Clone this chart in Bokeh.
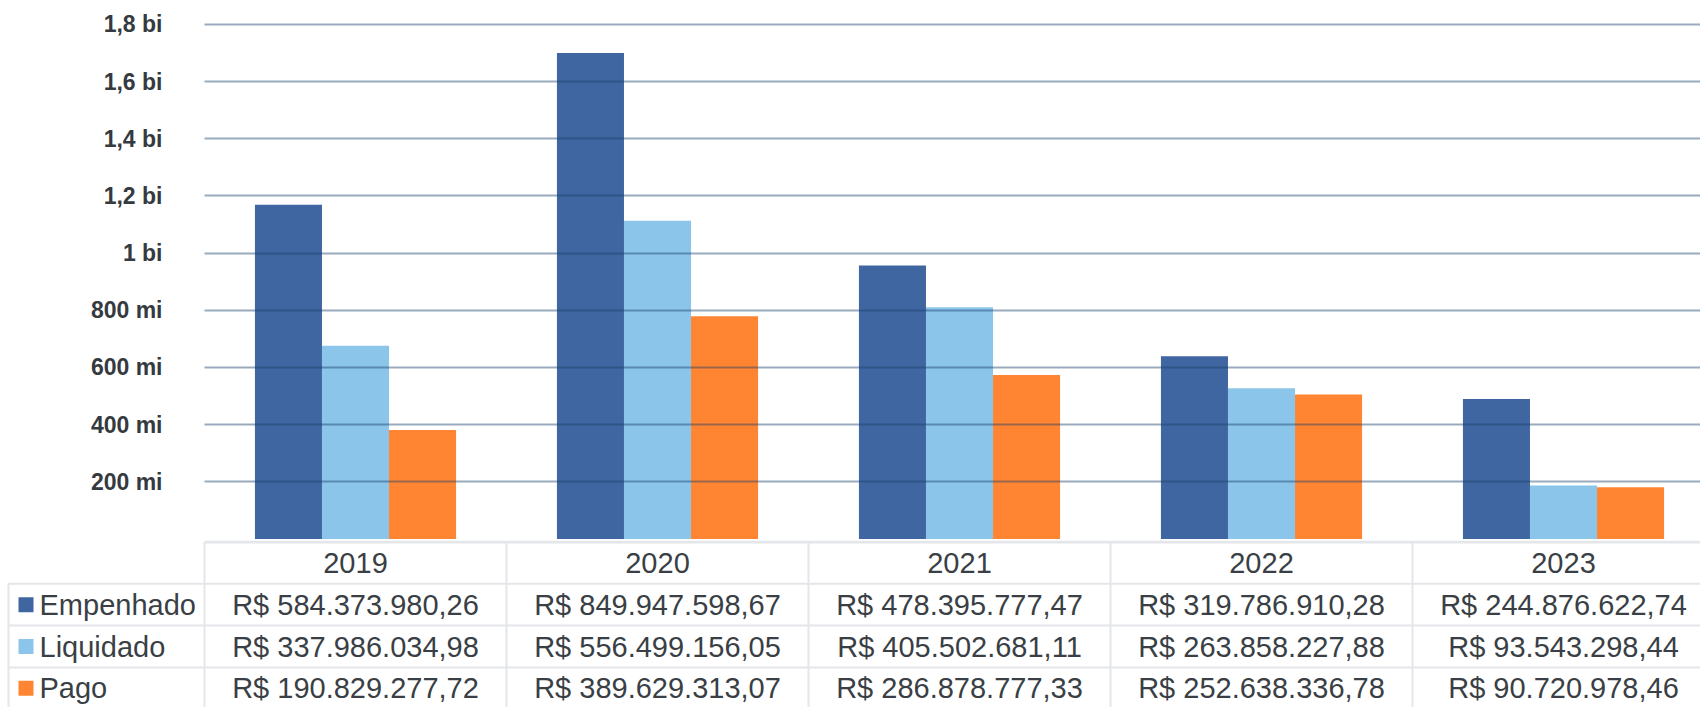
from bokeh.plotting import figure
from bokeh.models import Range1d, FixedTicker, ColumnDataSource
from bokeh.core.properties import value
from bokeh.embed import file_html
from bokeh.resources import INLINE

# ---------------- data ----------------
years = ["2019", "2020", "2021", "2022", "2023"]
series = ["Empenhado", "Liquidado", "Pago"]
colors = ["#3F66A0", "#8CC5EA", "#FF8533"]

# bar heights as drawn in the picture (R$)
bar_empenhado = [1168.7e6, 1699.9e6, 956.8e6, 639.6e6, 489.8e6]
bar_liquidado = [676.0e6, 1113.0e6, 811.0e6, 527.7e6, 187.1e6]
bar_pago = [381.7e6, 779.3e6, 573.8e6, 505.3e6, 181.4e6]

# values in the data table (R$)
tab_empenhado = [584373980.26, 849947598.67, 478395777.47, 319786910.28, 244876622.74]
tab_liquidado = [337986034.98, 556499156.05, 405502681.11, 263858227.88, 93543298.44]
tab_pago = [190829277.72, 389629313.07, 286878777.33, 252638336.78, 90720978.46]

tick_values = [200e6, 400e6, 600e6, 800e6, 1000e6, 1200e6, 1400e6, 1600e6, 1800e6]
tick_labels = ["200 mi", "400 mi", "600 mi", "800 mi", "1 bi", "1,2 bi", "1,4 bi", "1,6 bi", "1,8 bi"]


def brl(v):
    s = f"{v:,.2f}".replace(",", "X").replace(".", ",").replace("X", ".")
    return "R$ " + s


FONT = "Liberation Sans"
TXT = "#3a3f45"
LINE = "#e4e6e9"
TFS = "29px"

W = 1700
CAT = 302.0          # px per category
LEFT = 204           # px left of plot area
n = len(years)
x_end = (W - LEFT) / CAT

# ---------------- chart ----------------
top_h = 540
px_per = 287.5e-9    # px per R$
zero_px = 541.5
p = figure(width=W, height=top_h, output_backend="svg", toolbar_location=None,
           x_range=Range1d(0, x_end),
           y_range=Range1d(-(zero_px - top_h) / px_per, zero_px / px_per),
           x_axis_location=None, min_border_left=LEFT, min_border_right=0,
           min_border_top=0, min_border_bottom=0)
p.outline_line_color = None
p.xgrid.visible = False

centers = [i + 0.5 for i in range(n)]
bw = 0.222
for k, (vals, col) in enumerate(zip([bar_empenhado, bar_liquidado, bar_pago], colors)):
    src = ColumnDataSource(dict(x=[c + (k - 1) * bw for c in centers], top=vals))
    p.vbar(x="x", top="top", bottom=0, width=bw, source=src, fill_color=col,
           line_color=None)

ticker = FixedTicker(ticks=tick_values)
ax = p.yaxis[0]
ax.ticker = ticker
ax.major_label_overrides = {v: l for v, l in zip(tick_values, tick_labels)}
ax.axis_line_color = None
ax.major_tick_line_color = None
ax.minor_tick_line_color = None
ax.major_tick_in = 0
ax.major_tick_out = 0
ax.major_label_standoff = 42
ax.major_label_text_font = FONT
ax.major_label_text_font_style = "bold"
ax.major_label_text_font_size = "23px"
ax.major_label_text_color = "#353a40"
p.ygrid.ticker = ticker
p.ygrid.grid_line_color = "#183f68"
p.ygrid.grid_line_alpha = 0.44
p.ygrid.grid_line_width = 2
p.ygrid.level = "annotation"

# ---------------- data table ----------------
row_px = 41.8
tab_h = 707 - top_h
t = figure(width=W, height=tab_h, output_backend="svg", toolbar_location=None,
           x_range=Range1d(-LEFT / CAT, x_end),
           y_range=Range1d(-(707 - zero_px) / row_px, (zero_px - top_h) / row_px),
           x_axis_location=None, y_axis_location=None,
           min_border_left=0, min_border_right=0, min_border_top=0, min_border_bottom=0)
t.outline_line_color = None
t.grid.visible = False

x_box = (8 - LEFT) / CAT
# horizontal lines
t.segment(x0=[0], y0=[0], x1=[n + 1], y1=[0], line_color=LINE, line_width=3)
t.segment(x0=[x_box] * 3, y0=[-1, -2, -3], x1=[n + 1] * 3, y1=[-1, -2, -3],
          line_color=LINE, line_width=2)
# vertical lines
t.segment(x0=list(range(n + 1)), y0=[0] * (n + 1), x1=list(range(n + 1)), y1=[-5] * (n + 1),
          line_color=LINE, line_width=2)
t.segment(x0=[x_box], y0=[-1], x1=[x_box], y1=[-5], line_color=LINE, line_width=2)

# header
t.text(x=centers, y=[-0.5] * n, text=years, text_font=value(FONT), text_font_size=TFS,
       text_color=TXT, text_align="center", text_baseline="middle")
for r, (vals, name, col) in enumerate(zip([tab_empenhado, tab_liquidado, tab_pago], series, colors)):
    yy = -(r + 1.5)
    t.text(x=centers, y=[yy] * n, text=[brl(v) for v in vals], text_font=value(FONT),
           text_font_size=TFS, text_color=TXT, text_align="center", text_baseline="middle")
    t.scatter(x=[(25.5 - LEFT) / CAT], y=[yy], marker="square", size=15, fill_color=col,
              line_color=None)
    t.text(x=[(39 - LEFT) / CAT], y=[yy], text=[name], text_font=value(FONT),
           text_font_size=TFS, text_color=TXT, text_align="left", text_baseline="middle")

html = file_html([p, t], INLINE)
html = html.replace("<head>", "<head><style>html,body{margin:0;padding:0;}</style>", 1)
open("out.html", "w").write(html)
